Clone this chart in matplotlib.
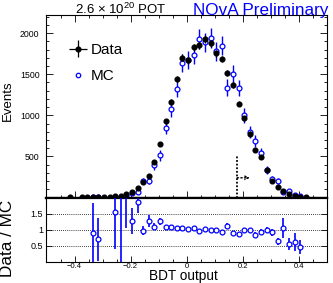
import numpy as np
import matplotlib
matplotlib.use("Agg")
import matplotlib.pyplot as plt
from matplotlib.ticker import MultipleLocator, FixedLocator, FuncFormatter
from matplotlib.legend_handler import HandlerErrorbar
from matplotlib.lines import Line2D

plt.rcParams["font.family"] = ["Liberation Sans", "DejaVu Sans"]
plt.rcParams["mathtext.fontset"] = "custom"
plt.rcParams["mathtext.rm"] = "Liberation Sans"
plt.rcParams["mathtext.default"] = "regular"

NAN = np.nan

# bin centres of the BDT output histogram (first filled bin .. last filled bin)
bin_centers = np.round(np.arange(-0.415, 0.426, 0.02), 3)

data_counts = [3, NAN, 3, 5, 6, 7, 8, 10, 13, 22,
               37, 65, 122, 191, 264, 432, 650, 925, 1163, 1440,
               1700, 1668, 1830, 1854, 1928, 1875, 1753, 1684, 1513, 1363,
               1143, 966, 777, 573, 492, 329, 207, 126, 77, 45,
               22, 11, 4]
data_err = [1.7, NAN, 1.7, 2.2, 2.4, 2.6, 2.8, 3.2, 3.6, 4.7,
            6.1, 8.1, 11, 13.8, 16.2, 20.8, 25.5, 30.4, 34.1, 37.9,
            41.2, 40.8, 42.8, 43.1, 43.9, 43.3, 41.9, 41.0, 38.9, 36.9,
            33.8, 31.1, 27.9, 23.9, 22.2, 18.1, 14.4, 11.2, 8.8, 6.7,
            4.7, 3.3, 2.0]

mc_counts = [NAN, NAN, NAN, NAN, 7, 10, NAN, NAN, 8, 8,
             16, 51, 65, 197, 207, 394, 512, 850, 1074, 1326,
             1631, 1670, 1732, 1928, 1887, 1936, 1781, 1846, 1338, 1501,
             1330, 998, 797, 683, 537, 338, 225, 200, 73, 82,
             36, 24, NAN]
mc_err = [NAN, NAN, NAN, NAN, 7, 9, NAN, NAN, 8, 8,
          11, 20, 22, 38, 39, 54, 62, 80, 90, 100,
          110, 112, 114, 120, 119, 120, 116, 118, 100, 106,
          100, 86, 77, 72, 63, 50, 41, 39, 23, 25,
          16, 13, NAN]

ratio = [NAN, NAN, NAN, NAN, 0.89, 0.71, NAN, NAN, 1.56, 2.7,
         2.3, 1.27, 1.87, 0.97, 1.28, 1.09, 1.26, 1.09, 1.08, 1.07,
         1.06, 1.01, 1.06, 0.96, 1.02, 0.98, 0.98, 0.93, 1.13, 0.91,
         0.86, 0.98, 0.98, 0.85, 0.93, 0.99, 0.92, 0.64, 1.06, 0.56,
         0.63, 0.46, NAN]
ratio_err = [NAN, NAN, NAN, NAN, 0.95, 0.67, NAN, NAN, 1.15, 2.8,
             1.25, 0.41, 0.34, 0.14, 0.19, 0.11, 0.11, 0.07, 0.06, 0.05,
             0.05, 0.05, 0.05, 0.05, 0.05, 0.05, 0.05, 0.05, 0.07, 0.06,
             0.06, 0.07, 0.07, 0.08, 0.09, 0.1, 0.1, 0.1, 0.31, 0.2,
             0.28, 0.22, NAN]

cut_value = 0.18
cut_height = 500
arrow_end = 0.225
arrow_height = 240

BLUE = "#0000ff"

fig = plt.figure(figsize=(3.33, 2.83), dpi=100)
ax = fig.add_axes([0.1396, 0.302, 0.842, 0.645])
rax = fig.add_axes([0.1396, 0.0742, 0.842, 0.2278], sharex=ax)

# top panel: MC first, data on top
ax.errorbar(bin_centers, mc_counts, yerr=mc_err, fmt="o", ms=3.5, mfc="white",
            mec=BLUE, mew=0.9, ecolor=BLUE, elinewidth=1.0, capsize=0, zorder=2)
ax.errorbar(bin_centers, data_counts, yerr=data_err, fmt="o", ms=3.4, color="k",
            elinewidth=0.9, capsize=0, zorder=3)

# cut line and arrow
ax.plot([cut_value, cut_value], [0, cut_height], color="k", lw=1.3,
        ls=(0, (1, 1)), zorder=1)
ax.annotate("", xy=(arrow_end, arrow_height), xytext=(cut_value, arrow_height),
            arrowprops=dict(arrowstyle="->", ls=":", lw=1.0, color="k",
                            shrinkA=0, shrinkB=0, mutation_scale=6))

ax.set_xlim(-0.5, 0.5)
ax.set_ylim(0, 2220)
ax.yaxis.set_major_locator(FixedLocator([500, 1000, 1500, 2000]))
ax.yaxis.set_minor_locator(MultipleLocator(100))
ax.xaxis.set_major_locator(MultipleLocator(0.2))
ax.xaxis.set_minor_locator(MultipleLocator(0.05))
ax.tick_params(which="both", direction="in", top=True, right=True,
               labelbottom=False, labelsize=6.3, pad=5)
ax.tick_params(which="major", length=5, width=0.6)
ax.tick_params(which="minor", length=2.5, width=0.6)
for s in ax.spines.values():
    s.set_linewidth(0.8)
ax.spines["bottom"].set_linewidth(1.6)

# legend
leg_data = ax.errorbar([], [], xerr=[], yerr=[], fmt="o", ms=3.4, color="k",
                       elinewidth=0.9, capsize=0)
leg_mc = Line2D([], [], ls="none", marker="o", ms=3.2, mfc="white", mec=BLUE, mew=0.9)
fig.legend([leg_data, leg_mc], ["Data", "MC"], loc="center left",
           bbox_to_anchor=(69 / 333, 1 - 63 / 283), frameon=False, fontsize=11,
           borderpad=0, borderaxespad=0, handlelength=1.2, handletextpad=0.25,
           labelspacing=0.8,
           handler_map={type(leg_data): HandlerErrorbar(xerr_size=0.6, yerr_size=0.55)})

# ratio panel
rax.errorbar(bin_centers, ratio, yerr=ratio_err, fmt="o", ms=3.5, mfc="white",
             mec=BLUE, mew=0.9, ecolor=BLUE, elinewidth=1.2, capsize=0, zorder=3)
for yv in [0.5, 1.0, 1.5]:
    rax.axhline(yv, color="k", lw=0.6, ls=(0, (1, 1.5)), zorder=1)
rax.set_ylim(0, 2)
rax.yaxis.set_major_locator(FixedLocator([0.5, 1.0, 1.5]))
rax.xaxis.set_major_locator(MultipleLocator(0.2))
rax.xaxis.set_minor_locator(MultipleLocator(0.05))
fmt = FuncFormatter(lambda v, p: f"{v:g}".replace("-", "\u2212"))
rax.xaxis.set_major_formatter(fmt)
rax.yaxis.set_major_formatter(fmt)
rax.tick_params(which="both", direction="in", right=True, top=False)
rax.tick_params(axis="x", labelsize=5.5, pad=0.8)
rax.tick_params(axis="y", labelsize=6.5, pad=2.5)
rax.tick_params(which="major", length=4, width=0.6)
rax.tick_params(which="minor", length=2, width=0.6)
for s in rax.spines.values():
    s.set_linewidth(0.8)
rax.spines["top"].set_linewidth(1.6)

# texts
fig.text(75 / 333, 1 - 14 / 283, "2.6 \u00d7 10$^{20}$ POT", fontsize=9.5,
         ha="left", va="baseline")
fig.text(193 / 333, 1 - 15 / 283, "NOvA Preliminary", fontsize=12.3,
         color=BLUE, ha="left", va="baseline")
fig.text(7.5 / 333, 1 - 101 / 283, "Events", fontsize=9.5, rotation=90,
         ha="center", va="center")
fig.text(8 / 333, 1 - 238 / 283, "Data / MC", fontsize=12.3, rotation=90,
         ha="center", va="center")
fig.text(183.5 / 333, 1 - 279.8 / 283, "BDT output", fontsize=9.8,
         ha="center", va="baseline")

fig.savefig("out.png", dpi=100)
